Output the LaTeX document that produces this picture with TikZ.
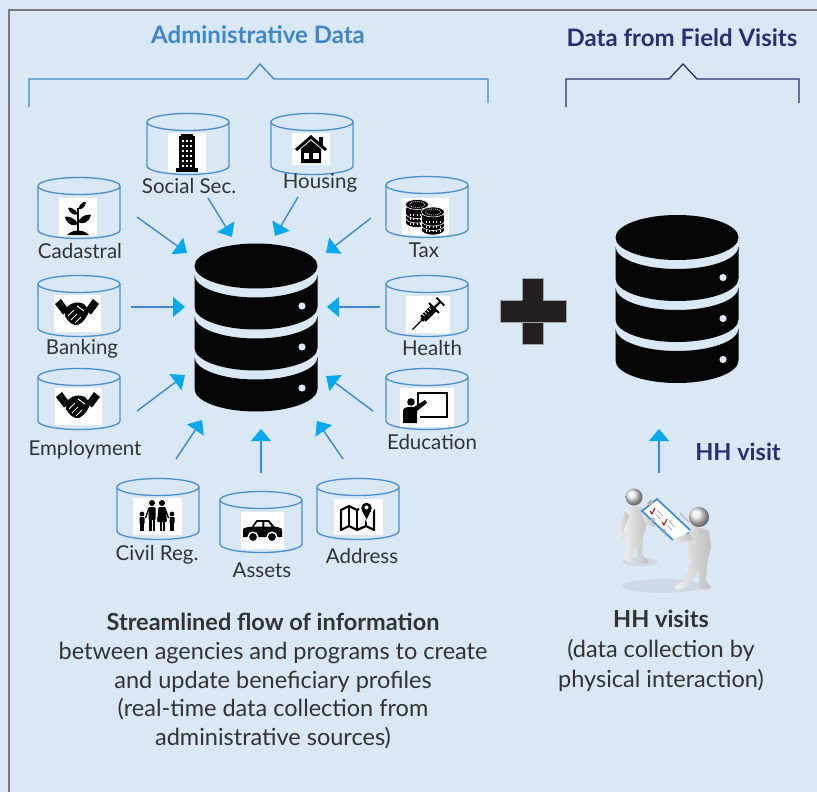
\documentclass[tikz,border=0pt]{standalone}
\usepackage{fontspec}
\setmainfont{Lato}
\usetikzlibrary{arrows.meta}

\definecolor{bgblue}{HTML}{DAE7F4}
\definecolor{frame}{HTML}{7A7A7A}
\definecolor{adminblue}{HTML}{3F87C9}
\definecolor{navy}{HTML}{2B2E70}
\definecolor{txt}{HTML}{333333}
\definecolor{cylline}{HTML}{4A8FD0}
\definecolor{arrowline}{HTML}{3D8AD2}
\definecolor{arrowhead}{HTML}{08A9EC}
\definecolor{dbblack}{HTML}{050505}
\definecolor{plusblack}{HTML}{231F20}

% source cylinder: centre x, top-ellipse centre y
\newcommand\sourcecyl[2]{%
  \draw[cyl] (#1,#2) ellipse[x radius=41,y radius=8.5];
  \draw[cyl] ({#1-41},#2) -- ({#1-41},{#2+44})
    arc[start angle=180,end angle=0,x radius=41,y radius=8.5] -- ({#1+41},#2);}

% stacked database: centre x, cap centre y
\newcommand\stackdb[2]{%
  \fill[dbblack] (#1,#2) ellipse[x radius=61.5,y radius=22.5];
  \foreach \k in {0,1,2}{%
    \pgfmathsetmacro\bandtop{#2+9+41*\k}
    \fill[dbblack] ({#1-61.5},\bandtop)
      arc[start angle=180,end angle=0,x radius=61.5,y radius=22.5]
      -- ({#1+61.5},{\bandtop+32})
      arc[start angle=0,end angle=180,x radius=61.5,y radius=22.5] -- cycle;
    \fill[bgblue] ({#1+46},{\bandtop+31}) circle[radius=3.6];
  }}

% coin side and coin face: centre x, top y
\newcommand\coin[2]{%
  \filldraw[fill=black,draw=white,line width=0.6] ({#1-11.5},#2) -- ({#1-11.5},{#2+4.5})
    arc[start angle=180,end angle=0,x radius=11.5,y radius=5] -- ({#1+11.5},#2)
    arc[start angle=0,end angle=-180,x radius=11.5,y radius=5] -- cycle;
  \foreach \t in {-7,-3.5,0,3.5,7}{\draw[white,line width=0.7] ({#1+\t},{#2+4.5}) -- ({#1+\t},{#2+6.5});}}
\newcommand\cointop[2]{%
  \filldraw[fill=black,draw=white,line width=0.6] (#1,#2) ellipse[x radius=11.5,y radius=5];
  \draw[white,line width=0.8,dash pattern=on 0.8pt off 1.2pt] (#1,#2) ellipse[x radius=7.5,y radius=3];}

% handshake glyph at the origin of the current scope
\newcommand\handshake{%
  \fill (-22,-9) -- (-16,-14) -- (-8,-3) -- (-14,1.5) -- cycle;
  \fill (22,-9) -- (16,-14) -- (8,-3) -- (14,1.5) -- cycle;
  \fill (-12,-4) .. controls (-6,-11) and (2,-12) .. (7,-9) -- (12,-3)
    .. controls (11,3) and (7,9) .. (1,12) .. controls (-4,13) and (-9,9) .. (-12,3) -- cycle;
  \draw[white,line width=1] (-9,3) -- (-3,-3) (-6,7) -- (0,1) (-2,10) -- (4,4) (0,-7) -- (7,-2);}

\begin{document}
\begin{tikzpicture}[x=1pt,y=-1pt,
  cyl/.style={draw=cylline,line width=1.3pt},
  iconbox/.style={fill=white,inner sep=0pt},
  lbl/.style={text=txt,font=\fontsize{20.5}{24}\selectfont,inner sep=0pt},
  feed/.style={draw=arrowline,line width=1.4pt,
    -{Triangle[length=12pt,width=20pt,color=arrowhead]}},
  title/.style={font=\bfseries\fontsize{24}{28}\selectfont,inner sep=0pt},
  bracketline/.style={line width=1.3pt,line join=miter},
  body/.style={text=txt,align=center,inner sep=0pt}]

\useasboundingbox (0,0) rectangle (817,792);
\fill[bgblue] (0,0) rectangle (817,792);
\draw[frame,line width=1.3pt] (9,792) -- (9,10) -- (817,10);

% ---------- headings and brackets ----------
\node[title,text=adminblue] (admin) at (258,35) {Administrative Data};
\node[title,text=navy] (field) at (682,38) {Data from Field Visits};
\draw[bracketline,adminblue] (29,107) -- (29,79) -- (247,79) -- (260,64) -- (274,79) -- (488,79) -- (488,103);
\draw[bracketline,navy] (566,107) -- (566,79) -- (669,79) -- (683,64) -- (697,79) -- (799,79) -- (799,103);

% ---------- source cylinders ----------
\sourcecyl{79}{186}   % cadastral
\sourcecyl{188}{122}  % social security
\sourcecyl{312}{122}  % housing
\sourcecyl{427}{185}  % tax
\sourcecyl{79}{284}   % banking
\sourcecyl{427}{284}  % health
\sourcecyl{79}{377}   % employment
\sourcecyl{427}{377}  % education
\sourcecyl{158}{487}  % civil registry
\sourcecyl{261}{500}  % assets
\sourcecyl{358}{487}  % address

% ---------- icons ----------
% cadastral: sprout
\node[iconbox,minimum width=38,minimum height=38] (cad-icon) at (78,217) {};
\begin{scope}[shift={(78,217)}]
  \fill (-11,18) .. controls (-5,12) and (5,12) .. (11,18) -- cycle;
  \draw[line width=2.2] (0,16) -- (0,-9);
  \fill (0,7) .. controls (-4,-1) and (-13,-1) .. (-13,0) .. controls (-11,8) and (-4,10) .. (0,7);
  \fill (0,5) .. controls (4,-3) and (13,-3) .. (13,-2) .. controls (11,6) and (4,8) .. (0,5);
  \fill (0,-3) .. controls (-3,-9) and (-9,-10) .. (-10,-9) .. controls (-8,-3) and (-3,-1) .. (0,-3);
  \fill (0,-8) .. controls (2,-14) and (7,-16) .. (8,-15) .. controls (7,-9) and (3,-7) .. (0,-8);
\end{scope}

% social security: office block
\node[iconbox,minimum width=38,minimum height=39] (soc-icon) at (187,152) {};
\begin{scope}[shift={(187,152)}]
  \fill (-6,-18) rectangle (6,-15);
  \fill (-8,-16) rectangle (8,17);
  \fill (-11,16) rectangle (11,19.5);
  \foreach \r in {0,...,5}{\foreach \c in {-5,-1.2,2.6}{
    \fill[white] (\c,-12+5*\r) rectangle ({\c+2.4},{-9.6+5*\r});}}
\end{scope}

% housing: house
\node[iconbox,minimum width=38,minimum height=32] (hou-icon) at (311,149) {};
\begin{scope}[shift={(311,149)}]
  \draw[line width=3,line join=miter] (-15,1) -- (0,-12) -- (15,1);
  \fill (8,-12) rectangle (11.5,-4);
  \fill (-10,0) -- (0,-8.5) -- (10,0) -- (10,14) -- (-10,14) -- cycle;
  \fill[white] (-7.5,4) rectangle (-2,9.5);
  \fill[white] (2,4) rectangle (7.5,9.5);
\end{scope}

% tax: stacks of coins
\node[iconbox,minimum width=47,minimum height=37] (tax-icon) at (425,216) {};
\begin{scope}[shift={(425,216)}]
  \coin{-8}{2}\coin{-8}{-2.5}\coin{-8}{-7}\cointop{-8}{-11.5}
  \coin{8}{9.5}\coin{8}{5}\coin{8}{0.5}\cointop{8}{-4}
\end{scope}

% health: syringe
\node[iconbox,minimum width=44,minimum height=37] (hea-icon) at (428,314) {};
\begin{scope}[shift={(428,314)},rotate=45]
  \draw[line width=1.3] (-8,0) -- (-22,0);
  \fill (-9,-2) rectangle (-7,2);
  \fill (-7,-4) rectangle (8,4);
  \foreach \t in {-4,-1,2,5}{\draw[white,line width=0.8] (\t,-4) -- (\t,-1);}
  \fill (7.5,-7) rectangle (9.5,7);
  \draw[line width=2.2] (9,0) -- (17,0);
  \fill (16.5,-5.5) rectangle (18.5,5.5);
\end{scope}

% education: teacher at a board
\node[iconbox,minimum width=54,minimum height=39] (edu-icon) at (427,407) {};
\begin{scope}[shift={(427,407)}]
  \draw[line width=2.6] (-9,-14) rectangle (20,10);
  \fill[white] (-13,3) rectangle (-7,12);
  \fill (-16,-5) circle[radius=3.8];
  \fill (-24,16) -- (-24,5) .. controls (-24,1.5) and (-22,0) .. (-19,0) -- (-13,0)
    -- (-2,-7) -- (0,-4) -- (-10,4) -- (-10,16) -- cycle;
\end{scope}

% banking and employment: handshakes
\node[iconbox,minimum width=47,minimum height=37] (ban-icon) at (77,313) {};
\begin{scope}[shift={(77,313)}]\handshake\end{scope}
\node[iconbox,minimum width=47,minimum height=37] (emp-icon) at (78,406) {};
\begin{scope}[shift={(78,406)}]\handshake\end{scope}

% civil registry: family
\node[iconbox,minimum width=49,minimum height=37] (civ-icon) at (157,516) {};
\begin{scope}[shift={(157,516)}]
  \fill (-5,-13) circle[radius=3];
  \fill (5,-13) circle[radius=3];
  \fill (-15,-2) circle[radius=2.4];
  \fill (15,-2) circle[radius=2.4];
  \fill[rounded corners=1] (-8.5,-9) rectangle (-1.5,4);
  \fill (-8,3) rectangle (-5.5,15);
  \fill (-4.5,3) rectangle (-2,15);
  \fill[rounded corners=1] (1.5,-9) -- (8.5,-9) -- (10,6) -- (0,6) -- cycle;
  \fill (2.5,5) rectangle (4.5,15);
  \fill (5.5,5) rectangle (7.5,15);
  \fill[rounded corners=0.8] (-17.5,1) rectangle (-12.5,8);
  \fill (-17,7) rectangle (-15.3,15);
  \fill (-14.7,7) rectangle (-13,15);
  \fill[rounded corners=0.8] (12.5,1) rectangle (17.5,8);
  \fill (13,7) rectangle (14.7,15);
  \fill (15.3,7) rectangle (17,15);
  \draw[line width=1.3] (-8,-8) -- (-11.5,2) (8,-8) -- (11.5,2);
\end{scope}

% assets: car
\node[iconbox,minimum width=43,minimum height=37] (ass-icon) at (262,530) {};
\begin{scope}[shift={(262,530)}]
  \fill (-19,7) -- (-19,0) .. controls (-19,-1.5) .. (-16,-2.5) -- (-10,-3.5) -- (-5.5,-10)
    -- (7,-10) -- (12.5,-3.5) -- (17,-2.5) .. controls (20,-1.5) .. (20,1) -- (20,7) -- cycle;
  \fill[white] (-4.5,-8) -- (0.3,-8) -- (0.3,-3.5) -- (-8,-3.5) -- cycle;
  \fill[white] (2.3,-8) -- (6,-8) -- (9.5,-3.5) -- (2.3,-3.5) -- cycle;
  \filldraw[draw=white,line width=1.4] (-9,7) circle[radius=4.8];
  \filldraw[draw=white,line width=1.4] (10,7) circle[radius=4.8];
\end{scope}

% address: folded map with pin
\node[iconbox,minimum width=49,minimum height=36] (adr-icon) at (358,517) {};
\begin{scope}[shift={(358,517)}]
  \draw[line width=2.2,line join=round]
    (-17,-7) -- (-9,-11) -- (-1,-7) -- (8,-11) -- (16,-7) -- (16,13) -- (8,9)
    -- (-1,13) -- (-9,9) -- (-17,13) -- cycle;
  \draw[line width=2.2] (-9,-11) -- (-9,9) (-1,-7) -- (-1,13) (8,2) -- (8,9);
  \fill[white] (8.5,-9) circle[radius=7.5];
  \fill[white] (3,-6) -- (14,-6) -- (8.5,5) -- cycle;
  \fill (8.5,-9) circle[radius=5.3];
  \fill (4,-6.5) -- (13,-6.5) -- (8.5,2.5) -- cycle;
  \fill[white] (8.5,-9.5) circle[radius=2];
\end{scope}

% ---------- source labels ----------
\node[lbl] (cad) at (80,251) {Cadastral};
\node[lbl] (soc) at (189,186) {Social Sec.};
\node[lbl] (hou) at (320,183) {Housing};
\node[lbl] (tax) at (424,250) {Tax};
\node[lbl] (ban) at (82,349) {Banking};
\node[lbl] (hea) at (432,348) {Health};
\node[lbl] (emp) at (85,450) {Employment};
\node[lbl] (edu) at (432,442) {Education};
\node[lbl] (civ) at (157,555) {Civil Reg.};
\node[lbl] (ass) at (262,570) {Assets};
\node[lbl] (adr) at (362,556) {Address};

% ---------- databases and plus ----------
\stackdb{256}{266}
\stackdb{677}{237.5}
\node[inner sep=0pt,minimum width=123,minimum height=168] (hub) at (256,328) {};
\node[inner sep=0pt,minimum width=123,minimum height=168] (fielddb) at (677,299) {};
\filldraw[fill=plusblack,draw=gray!70,line width=0.4] (522,278) rectangle (543,344);
\filldraw[fill=plusblack,draw=gray!70,line width=0.4] (500,300) rectangle (566,322);
\fill[plusblack] (522.2,300.2) rectangle (542.8,321.8);
\node[inner sep=0pt,minimum width=66,minimum height=66] (plus) at (533,311) {};

% ---------- feed arrows ----------
\coordinate (cad-s) at (137,217);  \coordinate (cad-t) at (187,253);
\coordinate (soc-s) at (208,198);  \coordinate (soc-t) at (232,237);
\coordinate (hou-s) at (298,197);  \coordinate (hou-t) at (275,236);
\coordinate (tax-s) at (371,218);  \coordinate (tax-t) at (326,253);
\coordinate (ban-s) at (131,307);  \coordinate (ban-t) at (185,307);
\coordinate (hea-s) at (380,307);  \coordinate (hea-t) at (327,307);
\coordinate (emp-s) at (137,411);  \coordinate (emp-t) at (185,375);
\coordinate (edu-s) at (373,411);  \coordinate (edu-t) at (326,376);
\coordinate (civ-s) at (176,459);  \coordinate (civ-t) at (202,420);
\coordinate (ass-s) at (261,473);  \coordinate (ass-t) at (261,429);
\coordinate (adr-s) at (343,459);  \coordinate (adr-t) at (317,421);
\coordinate (hh-s) at (659,473);   \coordinate (hh-t) at (659,429);
\foreach \n in {cad,soc,hou,tax,ban,hea,emp,edu,civ,ass,adr,hh}{
  \draw[feed] (\n-s) -- (\n-t);}

\node[font=\bfseries\fontsize{23.5}{28}\selectfont,text=navy,inner sep=0pt] (hhlabel) at (738,452) {HH visit};

% ---------- field visit figures ----------
\fill[black,opacity=0.06] (662,586) ellipse[x radius=40,y radius=7];
\fill[black,opacity=0.05] (640,562) ellipse[x radius=18,y radius=4];
% left person
\shade[left color=gray!12,right color=gray!50]
  (625,509) .. controls (630,505) and (640,505) .. (644,509) -- (647,523) -- (643,537)
  -- (642,555) -- (648,561) .. controls (647,564) .. (638,563) -- (636,545) -- (633,555)
  -- (635,561) .. controls (632,564) .. (625,560) -- (626,537) -- (623,522) -- cycle;
\shade[left color=gray!15,right color=gray!50]
  (625,511) -- (619,528) -- (618,541) -- (622,541) -- (624,529) -- (629,516) -- cycle;
\shade[left color=gray!15,right color=gray!50]
  (641,511) -- (646,524) -- (655,527) -- (656,523) -- (649,520) -- (645,509) -- cycle;
\shade[ball color=gray!15] (634,497) circle[radius=8.5];
% clipboard
\filldraw[fill=white,draw=cylline,line width=1.8] (642,511) -- (657,499) -- (691,531) -- (676,543) -- cycle;
\fill[gray!60] (647,503) -- (651,500) -- (654,503) -- (650,506) -- cycle;
\draw[red!80!black,line width=1.1] (650,511) -- (652,514) -- (655,508);
\draw[red!80!black,line width=1.1] (662,522) -- (664,525) -- (667,519);
\draw[gray!60,line width=0.8] (657,510) -- (663,516) (656,515) -- (660,519) (669,521) -- (675,527) (668,526) -- (672,530);
\draw[gray!70,line width=0.8] (653,520) circle[radius=1.8] (664,531) circle[radius=1.8];
% right person
\shade[left color=gray!12,right color=gray!50]
  (689,531) .. controls (694,527) and (704,527) .. (709,531) -- (711,547) -- (707,563)
  -- (706,582) -- (711,587) .. controls (709,590) .. (699,589) -- (699,570) -- (690,584)
  -- (682,589) .. controls (675,590) .. (675,586) -- (684,580) -- (691,563) -- (688,547) -- cycle;
\shade[left color=gray!15,right color=gray!50]
  (690,533) -- (676,538) -- (672,541) -- (675,544) -- (681,542) -- (693,540) -- cycle;
\shade[left color=gray!15,right color=gray!50]
  (703,531) -- (694,523) -- (689,521) -- (687,524) -- (692,527) -- (700,536) -- cycle;
\draw[gray!55,line width=1.2] (689,522) -- (680,513);
\shade[ball color=gray!15] (699,517) circle[radius=10];

% ---------- captions ----------
\node[body,font=\fontsize{23.5}{28.75}\selectfont] (adm-caption) at (273,681)
  {\textbf{Streamlined flow of information}\\
   between agencies and programs to create\\
   and update beneficiary profiles\\
   (real-time data collection from\\
   administrative sources)};
\node[body,font=\fontsize{23.5}{30}\selectfont] (hh-caption) at (661,651)
  {\textbf{HH visits}\\
   (data collection by\\
   physical interaction)};
\end{tikzpicture}
\end{document}
